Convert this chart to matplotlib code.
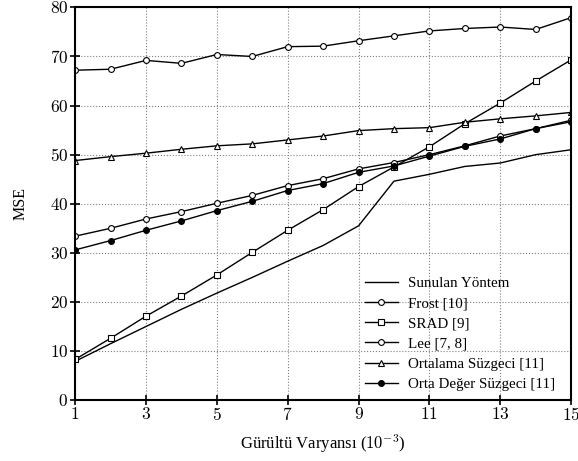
import matplotlib
matplotlib.use("Agg")
import matplotlib.pyplot as plt
from matplotlib.ticker import FuncFormatter

plt.rcParams['font.family'] = ['Liberation Serif', 'DejaVu Serif']
plt.rcParams['mathtext.fontset'] = 'cm'

x = list(range(1, 16))
sunulan = [7.9, 11.5, 15.0, 18.5, 21.8, 25.0, 28.3, 31.5, 35.5, 44.6, 46.0, 47.6, 48.3, 50.0, 51.0]
frost = [67.2, 67.4, 69.2, 68.6, 70.4, 70.0, 72.0, 72.1, 73.2, 74.2, 75.2, 75.7, 76.0, 75.5, 77.9]
srad = [8.3, 12.6, 17.1, 21.2, 25.5, 30.1, 34.6, 38.8, 43.5, 47.5, 51.6, 56.3, 60.5, 65.0, 69.3]
lee = [33.4, 35.0, 36.9, 38.4, 40.1, 41.7, 43.7, 45.1, 47.1, 48.4, 50.0, 51.8, 53.8, 55.3, 57.0]
ortalama = [48.8, 49.6, 50.3, 51.1, 51.8, 52.2, 53.0, 53.8, 54.9, 55.3, 55.5, 56.6, 57.3, 57.9, 58.6]
ortadeger = [30.6, 32.5, 34.6, 36.5, 38.6, 40.5, 42.7, 44.1, 46.4, 47.7, 49.7, 51.7, 53.2, 55.3, 56.7]

fig = plt.figure(figsize=(5.78, 4.61), dpi=100)
ax = fig.add_axes([0.130, 0.132, 0.858, 0.852])

lw = 1.0
mk = dict(ms=4.2, mec='black', mew=0.8)
ax.plot(x, sunulan, color='black', lw=lw, label='Sunulan Yöntem')
ax.plot(x, frost, color='black', lw=lw, marker='o', mfc='white', label='Frost [10]', **mk)
ax.plot(x, srad, color='black', lw=lw, marker='s', mfc='white', label='SRAD [9]', **mk)
ax.plot(x, lee, color='black', lw=lw, marker='o', mfc='white', label='Lee [7, 8]', **mk)
ax.plot(x, ortalama, color='black', lw=lw, marker='^', mfc='white', label='Ortalama Süzgeci [11]', **mk)
ax.plot(x, ortadeger, color='black', lw=lw, marker='o', mfc='black', label='Orta Değer Süzgeci [11]', **mk)

ax.set_xlim(1, 15)
ax.set_ylim(0, 80)
ax.set_xticks([1, 3, 5, 7, 9, 11, 13, 15])
ax.set_yticks(range(0, 81, 10))
fmt = FuncFormatter(lambda v, p: '$%d$' % v)
ax.xaxis.set_major_formatter(fmt)
ax.yaxis.set_major_formatter(fmt)
ax.tick_params(direction='inout', length=7, width=1.2, labelsize=12.5, pad=1.5)
ax.grid(True, linestyle=':', color='gray', lw=0.8)
for s in ax.spines.values():
    s.set_linewidth(1.5)

ax.set_xlabel('Gürültü Varyansı ($10^{-3}$)', fontsize=12, labelpad=5.5)
ax.set_ylabel('MSE', fontsize=11.5, labelpad=15)

leg = ax.legend(loc='lower right', bbox_to_anchor=(0.98, 0.008), frameon=False,
                fontsize=10.8, handlelength=2.2, handletextpad=0.7,
                labelspacing=0.45, borderaxespad=0)

fig.savefig('out.png', dpi=100)
